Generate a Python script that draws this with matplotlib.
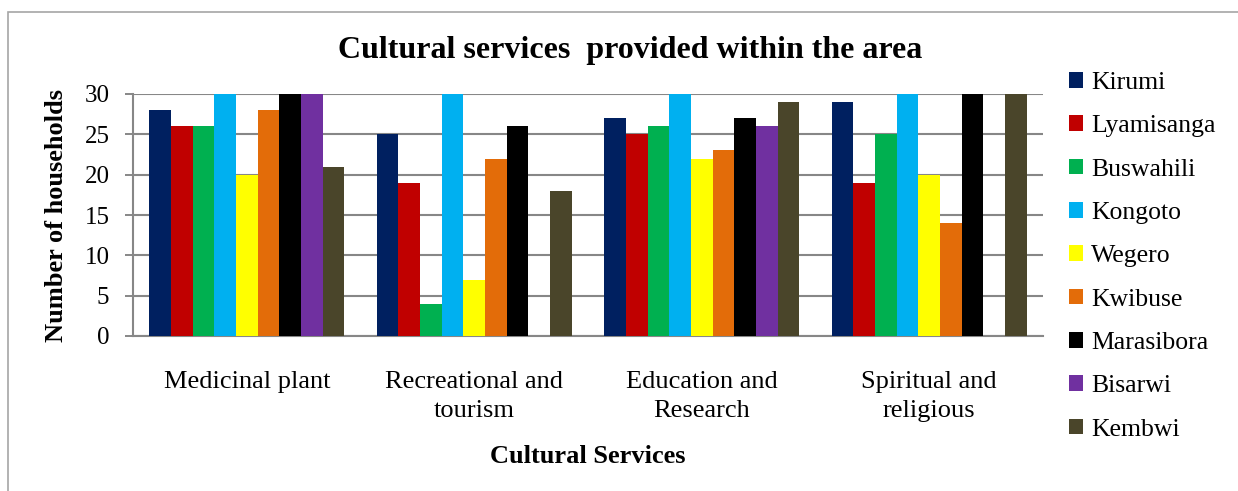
import matplotlib
matplotlib.use("Agg")
import matplotlib.pyplot as plt
from matplotlib.patches import Rectangle
import numpy as np

categories = ["Medicinal plant", "Recreational and\ntourism",
              "Education and\nResearch", "Spiritual and\nreligious"]
villages = ["Kirumi", "Lyamisanga", "Buswahili", "Kongoto", "Wegero",
            "Kwibuse", "Marasibora", "Bisarwi", "Kembwi"]
colors = ["#002060", "#C00000", "#00B050", "#00B0F0", "#FFFF00",
          "#E36C09", "#000000", "#7030A0", "#4A452A"]

kirumi = [28, 25, 27, 29]
lyamisanga = [26, 19, 25, 19]
buswahili = [26, 4, 26, 25]
kongoto = [30, 30, 30, 30]
wegero = [20, 7, 22, 20]
kwibuse = [28, 22, 23, 14]
marasibora = [30, 26, 27, 30]
bisarwi = [30, 0, 26, 0]
kembwi = [21, 18, 29, 30]
values = [kirumi, lyamisanga, buswahili, kongoto, wegero,
          kwibuse, marasibora, bisarwi, kembwi]

plt.rcParams["font.family"] = ["Liberation Serif", "DejaVu Serif"]

W, H = 1238, 491
fig = plt.figure(figsize=(W / 100, H / 100), dpi=100)
ax = fig.add_axes([133 / W, 1 - 336 / H, (1043 - 133) / W, (336 - 94) / H])

# outer chart frame
fig.patches.append(Rectangle((8 / W, -0.1), 1.1, 1.1 - 12 / H,
                             transform=fig.transFigure, fill=False,
                             edgecolor="#A6A6A6", linewidth=1.2))

n = len(villages)
width = 1 / (n + 1.5)
x = np.arange(len(categories))
for i, (name, vals, c) in enumerate(zip(villages, values, colors)):
    ax.bar(x + (i - (n - 1) / 2) * width, vals, width, color=c, label=name,
           zorder=3, linewidth=0)

ax.set_xlim(-0.5, len(categories) - 0.5)
ax.set_ylim(0, 30)
ax.set_yticks(range(0, 31, 5))
ax.set_xticks(x)
ax.set_xticklabels(categories, fontsize=19, linespacing=1.4)
ax.tick_params(axis="x", length=0, pad=25)
ax.tick_params(axis="y", length=6, width=1.4, color="#878787",
               labelsize=18, pad=11)
ax.yaxis.grid(True, color="#878787", linewidth=1.5, zorder=0)
for s in ["top", "right"]:
    ax.spines[s].set_visible(False)
for s in ["left", "bottom"]:
    ax.spines[s].set_color("#878787")
    ax.spines[s].set_linewidth(1.5)

ax.set_ylabel("Number of households", fontsize=19, fontweight="bold",
              labelpad=12)
ax.set_xlabel("Cultural Services", fontsize=19, fontweight="bold",
              labelpad=17)

fig.text(630 / W, 1 - 50 / H, "Cultural services  provided within the area",
         ha="center", va="center", fontsize=23, fontweight="bold")

fig.legend(loc="upper left", bbox_to_anchor=(1069 / W, 1 - 72 / H),
           frameon=False, fontsize=18.5, handlelength=0.55,
           handleheight=0.55, handletextpad=0.3, labelspacing=0.83,
           borderaxespad=0, borderpad=0)

fig.savefig("out.png", dpi=100)
